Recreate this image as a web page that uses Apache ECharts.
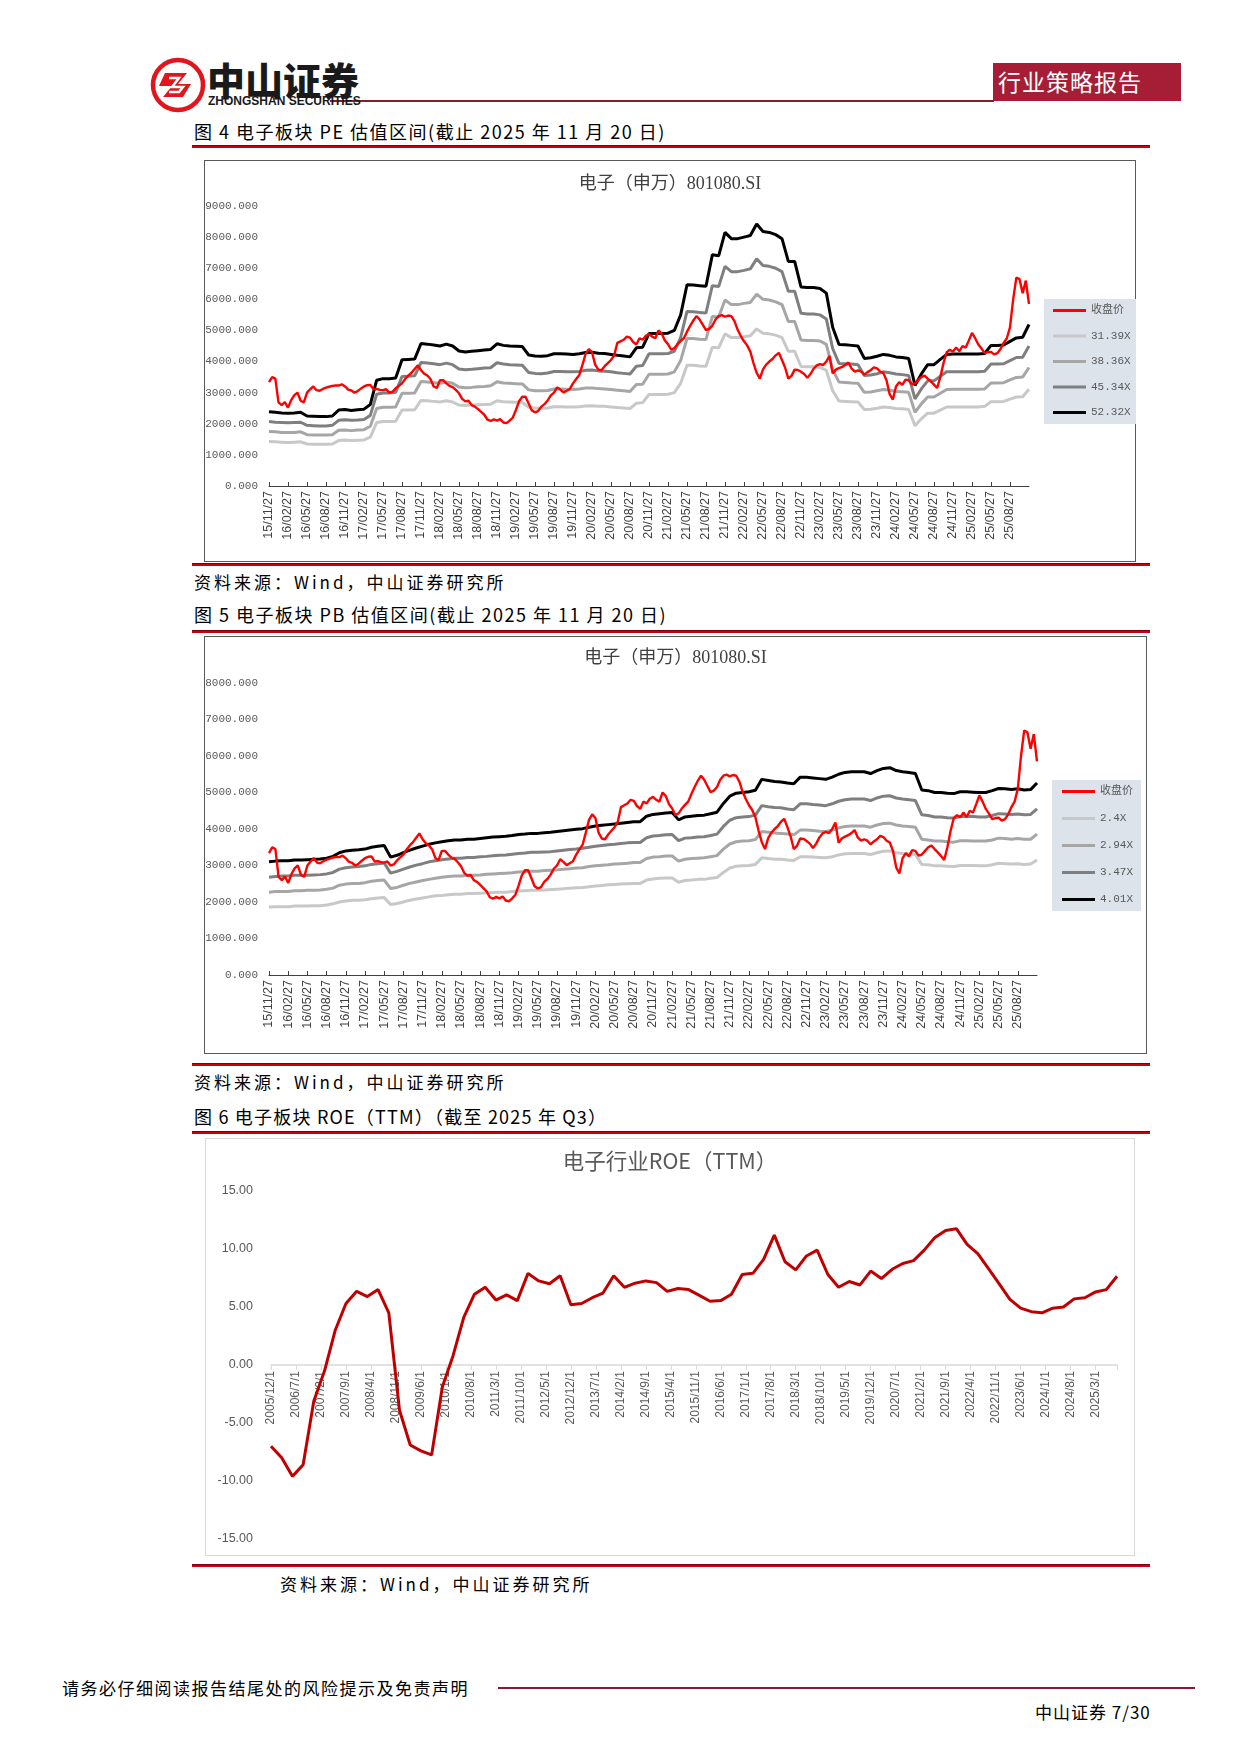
<!DOCTYPE html>
<html><head><meta charset="utf-8">
<script src="https://cdn.jsdelivr.net/npm/echarts@6/dist/echarts.min.js"></script>
<style>
html,body{margin:0;padding:0;background:#fff;}
body{width:1241px;height:1754px;position:relative;overflow:hidden;font-family:'Noto Sans CJK SC',sans-serif;}
.t{position:absolute;white-space:nowrap;line-height:1;color:#000;}
.cap{font-size:18px;letter-spacing:1.5px;}
.src{font-size:17px;letter-spacing:3px;}
.rl{position:absolute;left:192px;width:958px;height:3px;background:#c8000f;border-top:1px solid #7a0010;box-sizing:border-box;}
.frame{position:absolute;box-sizing:border-box;}
.chart{position:absolute;}
</style></head><body>

<svg style="position:absolute;left:150px;top:57px" width="56" height="56" viewBox="0 0 56 56">
  <circle cx="28" cy="28" r="25" fill="#fff" stroke="#e2141c" stroke-width="4.5"/>
  <path d="M15 16 L37 16 L28 27 L41 27 L33 40 L13 40 L22 29 L9 29 Z" fill="#e2141c"/>
  <path d="M19 21 L29 21 L22 30 L33 30 L29 35 L19 35" fill="none" stroke="#fff" stroke-width="2.5"/>
</svg>
<div style="position:absolute;left:330px;top:100px;width:664px;height:1.5px;background:#8c1a2d;"></div>
<div class="t" style="left:207px;top:60px;font-size:38px;font-weight:900;color:#1a1a1a;">中山证券</div>
<div class="t" style="left:208px;top:95px;font-size:12px;font-weight:bold;font-family:'Liberation Sans',Arial,sans-serif;color:#1a1a1a;">ZHONGSHAN SECURITIES</div>
<div style="position:absolute;left:993px;top:63px;width:188px;height:38px;background:#a61e35;"></div>
<div class="t" style="left:998px;top:70px;font-size:23px;color:#fff;letter-spacing:1px;">行业策略报告</div>

<div class="t cap" style="left:194px;top:122px;">图 4 电子板块 PE 估值区间(截止 2025 年 11 月 20 日)</div>
<div class="rl" style="top:145px;"></div>
<div class="frame" style="left:204px;top:160px;width:932px;height:402px;border:1px solid #595959;"></div>
<div id="pe" class="chart" style="left:204px;top:160px;width:932px;height:402px;"></div>
<div class="rl" style="top:563px;"></div>
<div class="t src" style="left:194px;top:573px;">资料来源：Wind，中山证券研究所</div>

<div class="t cap" style="left:194px;top:605px;">图 5 电子板块 PB 估值区间(截止 2025 年 11 月 20 日)</div>
<div class="rl" style="top:630px;"></div>
<div class="frame" style="left:204px;top:636px;width:943px;height:418px;border:1px solid #595959;"></div>
<div id="pb" class="chart" style="left:204px;top:636px;width:943px;height:418px;"></div>
<div class="rl" style="top:1063px;"></div>
<div class="t src" style="left:194px;top:1073px;">资料来源：Wind，中山证券研究所</div>

<div class="t cap" style="left:194px;top:1107px;letter-spacing:1.2px;">图 6 电子板块 ROE（TTM）（截至 2025 年 Q3）</div>
<div class="rl" style="top:1131px;"></div>
<div class="frame" style="left:205px;top:1138px;width:930px;height:418px;border:1px solid #d9d9d9;"></div>
<div id="roe" class="chart" style="left:205px;top:1138px;width:930px;height:418px;"></div>
<div class="rl" style="top:1564px;"></div>
<div class="t src" style="left:280px;top:1575px;">资料来源：Wind，中山证券研究所</div>

<div class="t" style="left:62px;top:1679px;font-size:17px;letter-spacing:1.5px;">请务必仔细阅读报告结尾处的风险提示及免责声明</div>
<div style="position:absolute;left:498px;top:1687px;width:697px;height:1.5px;background:#8c1a2d;"></div>
<div class="t" style="left:1035px;top:1703px;font-size:17px;letter-spacing:1px;">中山证券 7/30</div>

<script>
// ---------- data ----------
const valueTickLabels = ['15/11/27','16/02/27','16/05/27','16/08/27','16/11/27','17/02/27','17/05/27','17/08/27','17/11/27','18/02/27','18/05/27','18/08/27','18/11/27','19/02/27','19/05/27','19/08/27','19/11/27','20/02/27','20/05/27','20/08/27','20/11/27','21/02/27','21/05/27','21/08/27','21/11/27','22/02/27','22/05/27','22/08/27','22/11/27','23/02/27','23/05/27','23/08/27','23/11/27','24/02/27','24/05/27','24/08/27','24/11/27','25/02/27','25/05/27','25/08/27'];

// 收盘价 (semi-monthly, 2015/11/27 - 2025/11/20)
const closePrice = [
3340,3500,3450,2690,2600,2700,2520,2760,2920,3000,
2740,2690,3000,3110,3200,3080,3060,3120,3160,3190,
3220,3230,3230,3270,3200,3100,3070,3000,3050,3130,
3200,3240,3250,3110,3120,3090,3080,3110,3000,3030,
3140,3220,3300,3440,3550,3640,3760,3880,3720,3610,
3550,3440,3200,3150,3400,3400,3300,3220,3180,3090,
2980,2800,2720,2740,2600,2550,2470,2380,2290,2130,
2090,2140,2100,2150,2040,2020,2100,2200,2450,2730,
2870,2870,2650,2430,2370,2410,2550,2630,2750,2910,
3000,3170,3100,3010,3060,3120,3300,3440,3570,3900,
4250,4400,4300,3900,3740,3720,3850,3950,4050,4200,
4600,4650,4700,4800,4770,4630,4550,4750,4700,4830,
4880,4800,4750,5000,4900,4680,4560,4380,4430,4560,
4660,4750,4960,5150,5320,5460,5350,5180,5010,5050,
5150,5350,5460,5490,5440,5480,5460,5300,5020,4820,
4650,4520,4320,3950,3640,3450,3750,3900,4000,4080,
4200,4280,4050,3800,3450,3540,3740,3730,3670,3600,
3480,3600,3770,3880,3920,3890,4000,4180,3620,3740,
3790,3830,3890,3970,3770,3680,3720,3680,3580,3660,
3720,3810,3780,3680,3630,3400,2950,2780,3200,3340,
3250,3420,3400,3270,3300,3400,3500,3550,3450,3360,
3260,3150,3500,3950,4300,4380,4320,4450,4330,4500,
4450,4680,4920,4750,4550,4420,4270,4300,4310,4230,
4270,4400,4600,4750,5100,6000,6700,6650,6200,6600,5850];

// PE bands (monthly)
const pe52 = [
2390,2370,2350,2340,2350,2370,2250,2240,2230,2230,
2250,2440,2460,2430,2450,2470,2620,3400,3450,3450,
3470,4060,4070,4080,4580,4560,4530,4500,4560,4500,
4340,4310,4330,4350,4370,4390,4570,4520,4500,4490,
4480,4210,4180,4170,4190,4250,4250,4240,4230,4250,
4290,4300,4270,4260,4230,4200,4180,4150,4440,4460,
4900,4900,4900,4910,5000,5500,6470,6460,6440,6420,
7430,7400,8150,7950,7950,8000,8050,8420,8180,8150,
8080,7950,7220,7220,6400,6380,6380,6350,6200,5100,
4550,4540,4520,4500,4100,4120,4170,4230,4200,4150,
4130,4100,3230,3600,3900,3900,4070,4230,4240,4240,
4240,4240,4240,4260,4520,4520,4530,4650,4760,4780,5190];
const pe45 = [
2070,2050,2040,2030,2040,2050,1950,1940,1930,1930,
1950,2110,2130,2110,2120,2140,2270,2950,2990,2990,
3010,3520,3530,3540,3970,3950,3930,3900,3950,3900,
3760,3740,3750,3770,3790,3800,3960,3920,3900,3890,
3880,3650,3620,3610,3630,3680,3680,3670,3670,3680,
3720,3730,3700,3690,3670,3640,3620,3600,3850,3870,
4250,4250,4250,4260,4330,4770,5610,5600,5580,5560,
6440,6410,7060,6890,6890,6930,6980,7300,7090,7060,
7000,6890,6260,6260,5550,5530,5530,5500,5370,4420,
3940,3930,3920,3900,3550,3570,3610,3670,3640,3600,
3580,3550,2800,3120,3380,3380,3530,3670,3670,3670,
3670,3670,3670,3690,3920,3920,3930,4030,4130,4140,4500];
const pe38 = [
1750,1740,1720,1720,1720,1740,1650,1640,1640,1640,
1650,1790,1800,1780,1800,1810,1920,2490,2530,2530,
2540,2980,2980,2990,3360,3340,3320,3300,3340,3300,
3180,3160,3170,3190,3200,3220,3350,3310,3300,3290,
3280,3090,3060,3060,3070,3120,3120,3110,3100,3120,
3150,3150,3130,3120,3100,3080,3060,3040,3260,3270,
3590,3590,3590,3600,3670,4030,4740,4740,4720,4710,
5450,5430,5980,5830,5830,5870,5900,6170,6000,5980,
5920,5830,5290,5290,4690,4680,4680,4660,4550,3740,
3340,3330,3310,3300,3010,3020,3060,3100,3080,3040,
3030,3010,2370,2640,2860,2860,2980,3100,3110,3110,
3110,3110,3110,3120,3310,3310,3320,3410,3490,3500,3810];
const pe31 = [
1430,1420,1410,1400,1410,1420,1350,1340,1340,1340,
1350,1460,1480,1460,1470,1480,1570,2040,2070,2070,
2080,2440,2440,2450,2750,2740,2720,2700,2740,2700,
2600,2590,2600,2610,2620,2630,2740,2710,2700,2690,
2690,2530,2510,2500,2510,2550,2550,2540,2540,2550,
2570,2580,2560,2560,2540,2520,2510,2490,2660,2680,
2940,2940,2940,2950,3000,3300,3880,3880,3860,3850,
4460,4440,4890,4770,4770,4800,4830,5050,4910,4890,
4850,4770,4330,4330,3840,3830,3830,3810,3720,3060,
2730,2720,2710,2700,2460,2470,2500,2540,2520,2490,
2480,2460,1940,2160,2340,2340,2440,2540,2540,2540,
2540,2540,2540,2560,2710,2710,2720,2790,2860,2870,3110];

// PB bands (monthly)
const pb401 = [
3100,3120,3130,3130,3150,3150,3160,3170,3180,3200,
3250,3350,3400,3420,3430,3450,3500,3530,3550,3230,
3280,3350,3420,3480,3530,3580,3620,3650,3680,3700,
3700,3720,3720,3740,3760,3780,3790,3800,3820,3850,
3860,3880,3880,3900,3910,3930,3950,3970,3990,4010,
4050,4080,4100,4120,4140,4160,4180,4200,4200,4350,
4400,4420,4440,4450,4250,4330,4350,4370,4380,4420,
4460,4700,4900,4980,5000,5020,5060,5360,5330,5300,
5290,5260,5240,5420,5420,5400,5380,5360,5420,5500,
5550,5570,5570,5570,5520,5600,5660,5680,5600,5570,
5550,5520,5070,5050,5000,5000,4980,4970,5020,5020,
5010,5000,5000,5050,5110,5100,5080,5100,5070,5080,5260];
const pb347 = [
2680,2700,2710,2710,2730,2730,2730,2740,2750,2770,
2810,2900,2940,2960,2970,2990,3030,3050,3070,2790,
2840,2900,2960,3010,3050,3100,3130,3160,3180,3200,
3200,3220,3220,3240,3250,3270,3280,3290,3310,3330,
3340,3360,3360,3370,3380,3400,3420,3440,3450,3470,
3500,3530,3550,3570,3580,3600,3620,3630,3630,3760,
3810,3820,3840,3850,3680,3750,3760,3780,3790,3820,
3860,4070,4240,4310,4330,4340,4380,4640,4610,4590,
4580,4550,4530,4690,4690,4670,4660,4640,4690,4760,
4800,4820,4820,4820,4780,4850,4900,4910,4850,4820,
4800,4780,4390,4370,4330,4330,4310,4300,4340,4340,
4340,4330,4330,4370,4420,4410,4400,4410,4390,4400,4550];
const pb294 = [
2270,2290,2290,2290,2310,2310,2320,2320,2330,2350,
2380,2460,2490,2510,2510,2530,2570,2590,2600,2370,
2400,2460,2510,2550,2590,2620,2650,2680,2700,2710,
2710,2730,2730,2740,2760,2770,2780,2790,2800,2820,
2830,2840,2840,2860,2870,2880,2900,2910,2930,2940,
2970,2990,3010,3020,3040,3050,3060,3080,3080,3190,
3230,3240,3260,3260,3120,3170,3190,3200,3210,3240,
3270,3450,3590,3650,3670,3680,3710,3930,3910,3890,
3880,3860,3840,3970,3970,3960,3940,3930,3970,4030,
4070,4080,4080,4080,4050,4110,4150,4160,4110,4080,
4070,4050,3720,3700,3670,3670,3650,3640,3680,3680,
3670,3670,3670,3700,3750,3740,3720,3740,3720,3720,3860];
const pb24 = [
1860,1870,1870,1870,1890,1890,1890,1900,1900,1920,
1950,2000,2030,2050,2050,2060,2090,2110,2120,1930,
1960,2000,2050,2080,2110,2140,2170,2180,2200,2210,
2210,2230,2230,2240,2250,2260,2270,2270,2290,2300,
2310,2320,2320,2330,2340,2350,2360,2380,2390,2400,
2420,2440,2450,2470,2480,2490,2500,2510,2510,2600,
2630,2650,2660,2660,2540,2590,2600,2620,2620,2650,
2670,2810,2930,2980,2990,3000,3030,3210,3190,3170,
3170,3150,3140,3240,3240,3230,3220,3210,3240,3290,
3320,3330,3330,3330,3300,3350,3390,3400,3350,3330,
3320,3300,3030,3020,2990,2990,2980,2970,3000,3000,
3000,2990,2990,3020,3060,3050,3040,3050,3030,3040,3150];

// ROE (TTM), quarterly from 2005/12 to 2025/9
const roeTickLabels = ['2005/12/1','2006/7/1','2007/2/1','2007/9/1','2008/4/1','2008/11/1','2009/6/1','2010/1/1','2010/8/1','2011/3/1','2011/10/1','2012/5/1','2012/12/1','2013/7/1','2014/2/1','2014/9/1','2015/4/1','2015/11/1','2016/6/1','2017/1/1','2017/8/1','2018/3/1','2018/10/1','2019/5/1','2019/12/1','2020/7/1','2021/2/1','2021/9/1','2022/4/1','2022/11/1','2023/6/1','2024/1/1','2024/8/1','2025/3/1'];
const roeValues = [
-7.0,-8.0,-9.6,-8.6,-3.1,-0.5,3.0,5.3,6.35,5.9,
6.5,4.5,-3.9,-6.9,-7.4,-7.75,-1.9,0.8,4.1,6.1,
6.7,5.6,6.05,5.55,7.9,7.25,7.0,7.7,5.2,5.3,
5.8,6.2,7.7,6.7,7.05,7.25,7.1,6.35,6.6,6.5,
6.0,5.5,5.55,6.1,7.8,7.9,9.1,11.2,8.9,8.2,
9.4,9.9,7.8,6.7,7.2,6.9,8.1,7.45,8.25,8.75,
9.0,9.9,11.0,11.6,11.75,10.4,9.6,8.3,7.0,5.65,
4.9,4.6,4.5,4.9,5.0,5.7,5.8,6.3,6.5,7.65];

// ---------- helpers ----------
const MONO = "'Liberation Mono','Noto Sans CJK SC',monospace";
const SANS = "'Liberation Sans',Arial,sans-serif";
const CJK = "'Noto Sans CJK SC',sans-serif";
const TITLEFONT = "'Liberation Serif','Noto Sans CJK SC',serif";

const valueMonths = [];
for (let m = 0; m < pe52.length; m++) {
  const t = 2015 * 12 + 10 + m;
  const y = Math.floor(t / 12), mo = t % 12 + 1;
  valueMonths.push(String(y).slice(2) + '/' + String(mo).padStart(2, '0') + (m === pe52.length - 1 ? '/20' : '/27'));
}
const closeIdx = closePrice.map((_, i) => 'h' + i);
const lastTickIdx = (valueTickLabels.length - 1) * 3;
const qTick = (i) => i % 3 === 0 && i <= lastTickIdx;

function bandChart(dom, o) {
  const chart = echarts.init(dom);
  const series = o.bands.map((b, i) => ({
    name: b.name, type: 'line', xAxisIndex: 0, yAxisIndex: 0, data: b.data,
    symbol: 'none', lineStyle: { color: b.color, width: 3 }, itemStyle: { color: b.color }, z: 2 + i
  }));
  series.push({
    name: '收盘价', type: 'line', xAxisIndex: 1, yAxisIndex: 0, data: closePrice,
    symbol: 'none', lineStyle: { color: '#ff0000', width: 2.4 }, itemStyle: { color: '#ff0000' }, z: 10
  });
  chart.setOption({
    animation: false,
    title: { text: '电子（申万）801080.SI', left: 'center', top: o.titleTop,
      textStyle: { fontFamily: TITLEFONT, fontSize: 18, fontWeight: 'normal', color: '#404040' } },
    grid: { left: o.grid[0], top: o.grid[1], width: o.grid[2], height: o.grid[3], containLabel: false, outerBoundsMode: 'none' },
    legend: {
      orient: 'vertical', left: o.legend[0], top: o.legend[1], padding: o.legendPad, itemGap: o.legendGap,
      itemWidth: 33, itemHeight: 3, icon: 'rect', backgroundColor: '#dde3ea', selectedMode: false,
      data: ['收盘价'].concat(o.bands.map(b => b.name)),
      textStyle: { fontFamily: MONO, fontSize: 11, color: '#595959' }
    },
    xAxis: [{
      type: 'category', data: valueMonths, boundaryGap: false,
      axisLine: { lineStyle: { color: '#404040', width: 1 } },
      axisTick: { inside: true, length: 4, interval: qTick, lineStyle: { color: '#404040' } },
      axisLabel: { interval: qTick, rotate: 90, margin: 5, formatter: (v, i) => valueTickLabels[i / 3] || '',
        fontFamily: SANS, fontSize: 12.5, color: '#404040' }
    }, {
      type: 'category', data: closeIdx, boundaryGap: false, show: false
    }],
    yAxis: {
      type: 'value', min: 0, max: o.ymax, interval: 1000,
      axisLine: { show: false }, axisTick: { show: false }, splitLine: { show: false },
      axisLabel: { formatter: v => v.toFixed(3), margin: 11, fontFamily: MONO, fontSize: 11, color: '#595959' }
    },
    series: series
  });
}

bandChart(document.getElementById('pe'), {
  titleTop: 10, grid: [65, 46, 760, 280], ymax: 9000,
  legend: [840, 139], legendPad: [6, 8, 6, 9], legendGap: 14.5,
  bands: [
    { name: '31.39X', data: pe31, color: '#c8c8c8' },
    { name: '38.36X', data: pe38, color: '#a6a6a6' },
    { name: '45.34X', data: pe45, color: '#7f7f7f' },
    { name: '52.32X', data: pe52, color: '#000000' }
  ]
});

bandChart(document.getElementById('pb'), {
  titleTop: 8, grid: [65, 47, 768, 292], ymax: 8000,
  legend: [848, 144], legendPad: [6, 8, 6, 10], legendGap: 16,
  bands: [
    { name: '2.4X', data: pb24, color: '#c8c8c8' },
    { name: '2.94X', data: pb294, color: '#a6a6a6' },
    { name: '3.47X', data: pb347, color: '#7f7f7f' },
    { name: '4.01X', data: pb401, color: '#000000' }
  ]
});

// ROE chart: grid 0 holds the line; grid 1 (top half, ending at the 0 line) carries the visible x axis.
const roeMax = (roeValues.length - 1) * 3;
const roeChart = echarts.init(document.getElementById('roe'));
roeChart.setOption({
  animation: false,
  title: { text: '电子行业ROE（TTM）', left: 'center', top: 7,
    textStyle: { fontFamily: CJK, fontSize: 21.5, fontWeight: 'normal', color: '#595959' } },
  grid: [
    { left: 66, top: 53, width: 846, height: 348, containLabel: false, outerBoundsMode: 'none' },
    { left: 66, top: 53, width: 846, height: 174, containLabel: false, outerBoundsMode: 'none' }
  ],
  xAxis: [{
    gridIndex: 0, type: 'value', min: 0, max: roeMax, interval: 7, show: false
  }, {
    gridIndex: 1, type: 'value', min: 0, max: roeMax, interval: 7, position: 'bottom',
    axisLine: { onZero: false, lineStyle: { color: '#d9d9d9', width: 1.5 } },
    axisTick: { show: true, length: 5, lineStyle: { color: '#d9d9d9' } },
    splitLine: { show: false },
    axisLabel: { rotate: 90, margin: 6, formatter: v => roeTickLabels[v / 7] || '',
      fontFamily: SANS, fontSize: 12, color: '#595959' }
  }],
  yAxis: [{
    gridIndex: 0, type: 'value', min: -15, max: 15, interval: 5,
    axisLine: { show: false }, axisTick: { show: false }, splitLine: { show: false },
    axisLabel: { formatter: v => v.toFixed(2), margin: 18, fontFamily: SANS, fontSize: 12.5, color: '#595959' }
  }, {
    gridIndex: 1, type: 'value', min: 0, max: 1, show: false
  }],
  series: [{
    type: 'line', xAxisIndex: 0, yAxisIndex: 0, data: roeValues.map((v, i) => [3 * i, v]), symbol: 'none',
    lineStyle: { color: '#c00000', width: 3 }, itemStyle: { color: '#c00000' }
  }]
});
</script>
</body></html>
